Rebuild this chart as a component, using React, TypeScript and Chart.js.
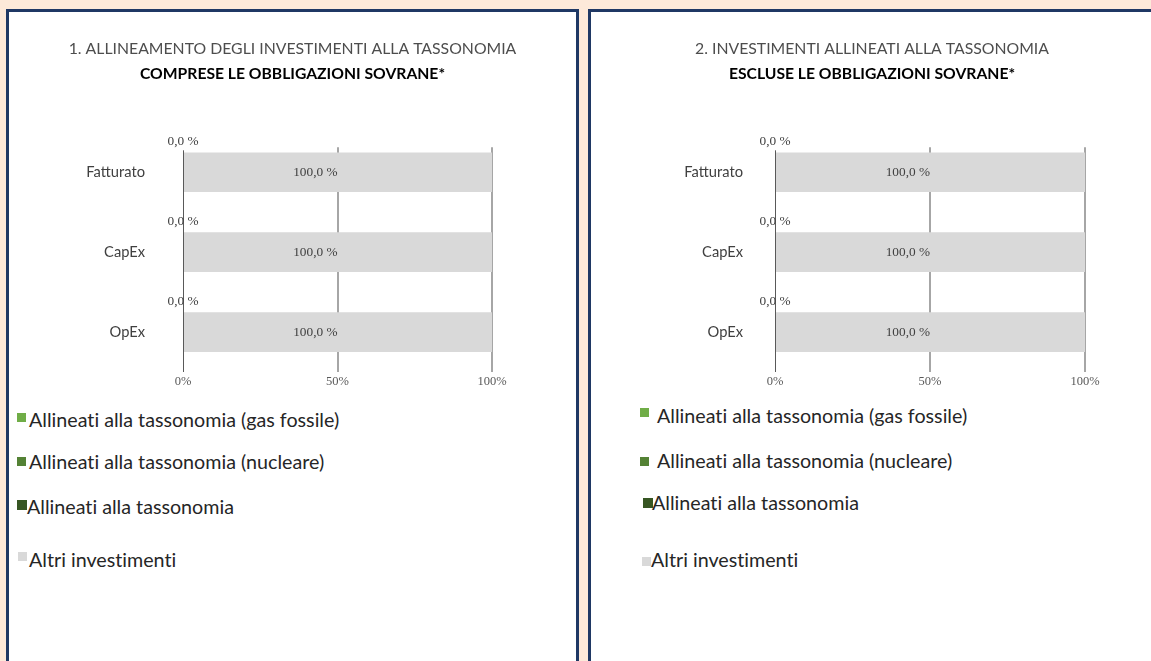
import React, { useEffect, useRef } from "react";
import { Chart, registerables } from "chart.js";

Chart.register(...registerables);

// ---------- data ----------
const categories = ["Fatturato", "CapEx", "OpEx"];
const seriesLabels = [
  "Allineati alla tassonomia (gas fossile)",
  "Allineati alla tassonomia (nucleare)",
  "Allineati alla tassonomia",
  "Altri investimenti",
];
const seriesColors = ["#70ad47", "#548235", "#375623", "#d9d9d9"];

// Panel 1: including sovereign bonds
const p1GasFossile = [0, 0, 0];
const p1Nucleare = [0, 0, 0];
const p1Allineati = [0, 0, 0];
const p1Altri = [100, 100, 100];

// Panel 2: excluding sovereign bonds
const p2GasFossile = [0, 0, 0];
const p2Nucleare = [0, 0, 0];
const p2Allineati = [0, 0, 0];
const p2Altri = [100, 100, 100];

const xTickValues = [0, 50, 100];

const title1 = "1. ALLINEAMENTO DEGLI INVESTIMENTI ALLA TASSONOMIA";
const subtitle1 = "COMPRESE LE OBBLIGAZIONI SOVRANE*";
const title2 = "2. INVESTIMENTI ALLINEATI ALLA TASSONOMIA";
const subtitle2 = "ESCLUSE LE OBBLIGAZIONI SOVRANE*";

// ---------- styling / layout ----------
const SANS = "Lato, 'Open Sans', sans-serif";
const SERIF = "'Liberation Serif', 'DejaVu Serif', serif";

const fmtPct = (v: number) => v.toFixed(1).replace(".", ",") + " %";

type LegendPos = { sx: number; sy: number; ss: number; tx: number; ty: number };

const legendLayout1: LegendPos[] = [
  { sx: 8, sy: 401, ss: 9, tx: 20, ty: 408 },
  { sx: 8, sy: 445, ss: 9, tx: 20, ty: 450 },
  { sx: 8, sy: 488, ss: 10, tx: 18, ty: 495 },
  { sx: 9, sy: 540, ss: 9, tx: 20, ty: 548 },
];
const legendLayout2: LegendPos[] = [
  { sx: 49, sy: 396, ss: 9, tx: 66, ty: 404 },
  { sx: 49, sy: 445, ss: 9, tx: 66, ty: 449 },
  { sx: 52, sy: 486, ss: 10, tx: 61, ty: 491 },
  { sx: 51, sy: 545, ss: 9, tx: 60, ty: 548 },
];

const gridPlugin = {
  id: "customGrid",
  beforeDatasetsDraw(chart: any) {
    const { ctx, chartArea, scales } = chart;
    const xs = scales.x;
    ctx.save();
    xs.ticks.forEach((t: any) => {
      if (t.value === 0) return;
      const x = Math.round(xs.getPixelForValue(t.value));
      ctx.strokeStyle = "#a6a6a6";
      ctx.lineWidth = 2;
      ctx.beginPath();
      ctx.moveTo(x, chartArea.top + 15);
      ctx.lineTo(x, chartArea.bottom);
      ctx.stroke();
    });
    ctx.restore();
  },
  afterDatasetsDraw(chart: any) {
    const { ctx, chartArea, scales } = chart;
    const xs = scales.x;
    const x = Math.round(xs.getPixelForValue(0)) + 0.5;
    ctx.save();
    ctx.strokeStyle = "#595959";
    ctx.lineWidth = 1;
    ctx.beginPath();
    ctx.moveTo(x, chartArea.top + 18);
    ctx.lineTo(x, chartArea.bottom);
    ctx.stroke();
    ctx.restore();
  },
};

const labelPlugin = {
  id: "valueLabels",
  afterDatasetsDraw(chart: any) {
    const { ctx } = chart;
    ctx.save();
    ctx.font = `13.3px ${SERIF}`;
    ctx.fillStyle = "#404040";
    ctx.textBaseline = "middle";
    // "Altri investimenti" labels, right-aligned at bar centre
    const metaAltri = chart.getDatasetMeta(3);
    const dsAltri = chart.data.datasets[3].data as number[];
    metaAltri.data.forEach((bar: any, i: number) => {
      const p = bar.getProps(["x", "y", "base"], true);
      ctx.textAlign = "right";
      ctx.fillText(fmtPct(dsAltri[i]), (p.x + p.base) / 2, p.y);
    });
    // taxonomy-aligned labels above the bar
    const metaAl = chart.getDatasetMeta(2);
    const dsAl = chart.data.datasets[2].data as number[];
    metaAl.data.forEach((bar: any, i: number) => {
      const p = bar.getProps(["x", "y", "base"], true);
      ctx.textAlign = "center";
      ctx.fillText(fmtPct(dsAl[i]), (p.x + p.base) / 2, p.y - 31);
    });
    ctx.restore();
  },
};

type PanelProps = {
  title: string;
  subtitle: string;
  series: number[][];
  width: number;
  yWidth: number;
  yPad: number;
  rightPad: number;
  legend: LegendPos[];
  left: number;
};

function Panel(props: PanelProps) {
  const ref = useRef<HTMLCanvasElement | null>(null);
  useEffect(() => {
    if (!ref.current) return;
    const chart = new Chart(ref.current, {
      type: "bar",
      data: {
        labels: categories,
        datasets: props.series.map((d, i) => ({
          label: seriesLabels[i],
          data: d,
          backgroundColor: seriesColors[i],
          borderWidth: 0,
          barThickness: 39,
        })),
      },
      options: {
        indexAxis: "y",
        responsive: false,
        animation: false,
        layout: { padding: 0 },
        plugins: {
          legend: { display: false },
          tooltip: { enabled: false },
          title: {
            display: true,
            text: props.title,
            color: "#4d4d4d",
            font: { family: SANS, size: 15.8, weight: "normal", lineHeight: 1.2 },
            padding: { top: 27, bottom: 7 },
          },
          subtitle: {
            display: true,
            text: props.subtitle,
            color: "#000000",
            font: { family: SANS, size: 15.7, weight: "bold", lineHeight: 1.2 },
            padding: { top: 0, bottom: 48.5 },
          },
        },
        scales: {
          x: {
            type: "linear",
            stacked: true,
            min: 0,
            max: 100,
            grid: { display: false, drawTicks: false },
            border: { display: false },
            afterBuildTicks: (s: any) => {
              s.ticks = xTickValues.map((v) => ({ value: v }));
            },
            ticks: {
              padding: 2,
              color: "#595959",
              font: { family: SERIF, size: 12.5 },
              callback: (v: any) => v + "%",
            },
            afterFit: (s: any) => {
              s.height = 20;
            },
          },
          y: {
            type: "category",
            stacked: true,
            grid: { display: false, drawTicks: true, tickLength: props.yPad },
            border: { display: false },
            ticks: {
              padding: 0,
              color: "#404040",
              font: { family: SANS, size: 14.7 },
            },
            afterFit: (s: any) => {
              s.width = props.yWidth;
            },
          },
          yRight: {
            type: "category",
            position: "right",
            display: true,
            grid: { display: false, drawTicks: false },
            border: { display: false },
            ticks: { display: false },
            afterFit: (s: any) => {
              s.width = props.rightPad;
            },
          },
        },
      } as any,
      plugins: [gridPlugin, labelPlugin],
    });
    return () => chart.destroy();
  }, []);

  return (
    <div
      style={{
        position: "absolute",
        left: props.left,
        top: 9,
        width: 567,
        height: 700,
        border: "3px solid #1f3864",
        background: "#ffffff",
      }}
    >
      <canvas
        ref={ref}
        width={props.width}
        height={380}
        style={{ position: "absolute", left: 0, top: 0, width: props.width, height: 380 }}
      />
      {props.legend.map((p, i) => (
        <React.Fragment key={i}>
          <div
            style={{
              position: "absolute",
              left: p.sx,
              top: p.sy,
              width: p.ss,
              height: p.ss,
              background: seriesColors[i],
            }}
          />
          <div
            style={{
              position: "absolute",
              left: p.tx,
              top: p.ty - 12,
              lineHeight: "24px",
              fontFamily: SANS,
              fontSize: 19.7,
              color: "#262626",
              whiteSpace: "nowrap",
              fontVariantLigatures: "none",
            }}
          >
            {seriesLabels[i]}
          </div>
        </React.Fragment>
      ))}
    </div>
  );
}

export default function App() {
  return (
    <div
      style={{
        position: "fixed",
        left: 0,
        top: 0,
        width: 1151,
        height: 661,
        background: "#fde9d9",
        overflow: "hidden",
      }}
    >
      <Panel
        title={title1}
        subtitle={subtitle1}
        series={[p1GasFossile, p1Nucleare, p1Allineati, p1Altri]}
        width={567}
        yWidth={174}
        yPad={38}
        rightPad={84}
        legend={legendLayout1}
        left={6}
      />
      <Panel
        title={title2}
        subtitle={subtitle2}
        series={[p2GasFossile, p2Nucleare, p2Allineati, p2Altri]}
        width={562}
        yWidth={184}
        yPad={32}
        rightPad={68}
        legend={legendLayout2}
        left={588}
      />
    </div>
  );
}
